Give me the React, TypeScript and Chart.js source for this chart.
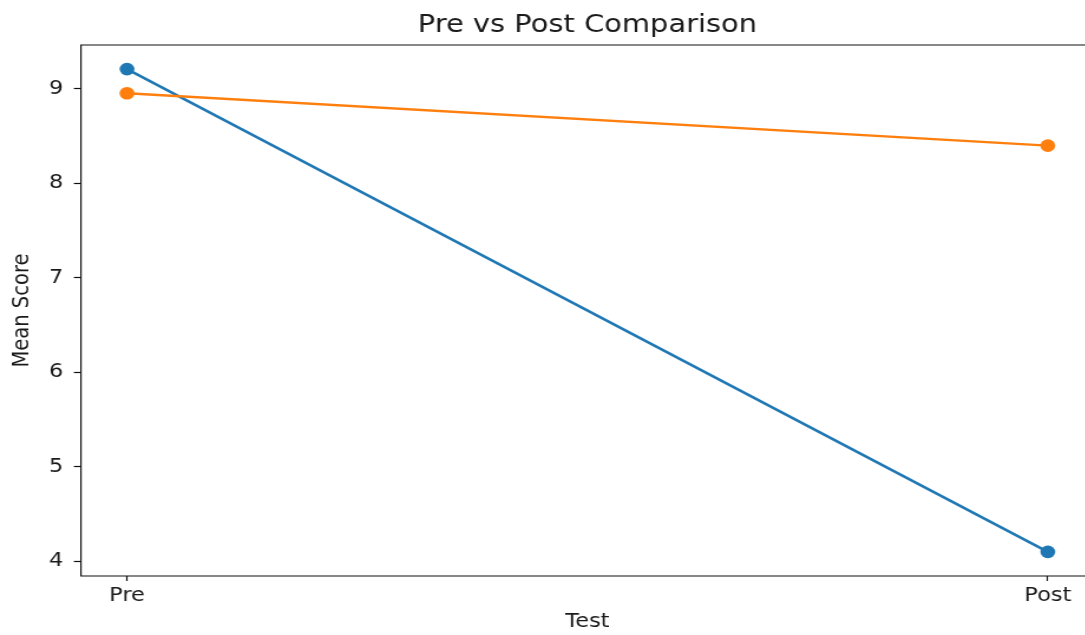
import React, { useEffect, useRef } from "react";
import { Chart, registerables } from "chart.js";

Chart.register(...registerables);

const TITLE = "Pre vs Post Comparison";
const X_LABELS = ["Pre", "Post"];
const X_TITLE = "Test";
const Y_TITLE = "Mean Score";
const Y_TICKS = [4, 5, 6, 7, 8, 9];
const SERIES_A = [9.21, 4.1];
const SERIES_B = [8.955, 8.4];
const COLOR_A = "#1f77b4";
const COLOR_B = "#ff7f0e";

const W = 940;
const H = 650;
const SX = 1.18;
const FONT = "'DejaVu Sans', sans-serif";
const TEXT = "#1a1a1a";

const framePlugin = {
  id: "frame",
  afterDraw(chart: any) {
    const { ctx, chartArea, width } = chart;
    const { left, top, bottom } = chartArea;
    ctx.save();
    ctx.strokeStyle = "#111";
    ctx.lineWidth = 1.2;
    ctx.beginPath();
    ctx.moveTo(width + 20, top);
    ctx.lineTo(left, top);
    ctx.lineTo(left, bottom);
    ctx.lineTo(width + 20, bottom);
    ctx.stroke();
    ctx.restore();
  },
};

export default function App() {
  const ref = useRef<HTMLCanvasElement>(null);
  useEffect(() => {
    document.documentElement.style.overflow = "hidden";
    document.body.style.overflow = "hidden";
    if (!ref.current) return;
    const pts = (vals: number[]) => vals.map((v, i) => ({ x: i, y: v }));
    const chart = new Chart(ref.current, {
      type: "line",
      data: {
        datasets: [
          {
            data: pts(SERIES_A),
            borderColor: COLOR_A,
            backgroundColor: COLOR_A,
            borderWidth: 2.5,
            pointRadius: 6.3,
            pointBorderWidth: 0,
            pointBackgroundColor: COLOR_A,
            order: 1,
          },
          {
            data: pts(SERIES_B),
            borderColor: COLOR_B,
            backgroundColor: COLOR_B,
            borderWidth: 2.5,
            pointRadius: 6.3,
            pointBorderWidth: 0,
            pointBackgroundColor: COLOR_B,
            order: 0,
          },
        ],
      },
      options: {
        animation: false,
        responsive: false,
        maintainAspectRatio: false,
        devicePixelRatio: 1,
        layout: { padding: { left: 0, right: W - 927, top: 0, bottom: 0 } },
        plugins: {
          legend: { display: false },
          tooltip: { enabled: false },
          title: {
            display: true,
            text: TITLE,
            fullSize: false,
            color: TEXT,
            font: { family: FONT, size: 24.5, weight: "normal", lineHeight: 1.2 },
            padding: { top: 11, bottom: 4.6 },
          },
        },
        scales: {
          x: {
            type: "linear",
            min: -0.05,
            max: 1.05,
            afterBuildTicks: (s: any) => {
              s.ticks = X_LABELS.map((_, i) => ({ value: i }));
            },
            afterFit: (s: any) => {
              s.height = H - 576;
            },
            ticks: {
              color: TEXT,
              font: { family: FONT, size: 19 },
              padding: 4,
              maxRotation: 0,
              autoSkip: false,
              callback: (v: any) => X_LABELS[Math.round(Number(v))] ?? "",
            },
            grid: { display: true, drawOnChartArea: false, drawTicks: true, tickLength: 5, tickColor: "#111", tickWidth: 1.2 },
            border: { display: false },
            title: {
              display: true,
              text: X_TITLE,
              color: TEXT,
              font: { family: FONT, size: 19, lineHeight: 1.2 },
              padding: { top: 0, bottom: 16.6 },
            },
          },
          y: {
            type: "linear",
            min: 3.845,
            max: 9.465,
            afterBuildTicks: (s: any) => {
              s.ticks = Y_TICKS.map((v) => ({ value: v }));
            },
            afterFit: (s: any) => {
              s.width = 68.6;
            },
            ticks: {
              color: TEXT,
              font: { family: FONT, size: 19 },
              padding: 9,
              callback: (v: any) => String(v),
            },
            grid: { display: true, drawOnChartArea: false, drawTicks: true, tickLength: 6, tickColor: "#111", tickWidth: 1.2 },
            border: { display: false },
            title: {
              display: true,
              text: Y_TITLE,
              color: TEXT,
              font: { family: FONT, size: 19.5, lineHeight: 1.2 },
              padding: { top: 7.2, bottom: 0 },
            },
          },
        },
      },
      plugins: [framePlugin],
    } as any);
    return () => chart.destroy();
  }, []);

  return (
    <div style={{ position: "fixed", left: 0, top: 0, width: 1200, height: 680, overflow: "hidden", background: "#fff" }}>
      <canvas
        ref={ref}
        width={W}
        height={H}
        style={{ width: W, height: H, display: "block", transform: `scaleX(${SX})`, transformOrigin: "0 0" }}
      />
    </div>
  );
}
